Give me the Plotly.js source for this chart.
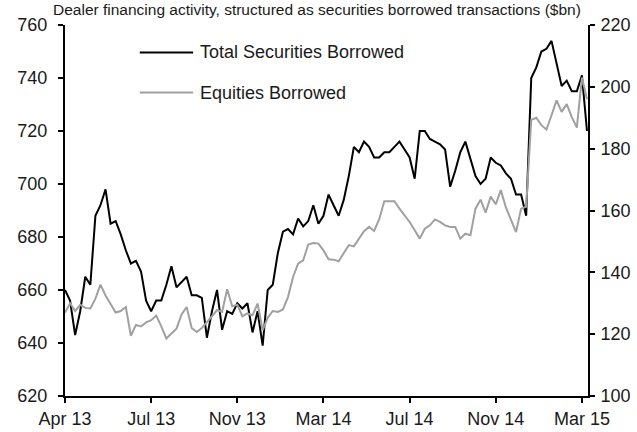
<!DOCTYPE html>
<html>
<head>
<meta charset="utf-8">
<script src="https://cdn.plot.ly/plotly-3.0.1.min.js"></script>
<style>html,body{margin:0;padding:0;background:#fff;}#chart{width:637px;height:432px;}</style>
</head>
<body>
<div id="chart"></div>
<script>
// Weekly observations, index 0 = first week of Apr 2013
const tickLabels = ['Apr 13', 'Jul 13', 'Nov 13', 'Mar 14', 'Jul 14', 'Nov 14', 'Mar 15'];
const tickIndex = [0, 17, 34, 51, 68, 85, 102];

// Total Securities Borrowed ($bn, left axis)
const totalBorrowed = [
  660, 656, 643, 652, 665, 662, 688, 692, 698, 685,
  686, 681, 675, 670, 671, 667, 656, 652, 656, 656,
  662, 669, 661, 663, 665, 658, 658, 657, 642, 652,
  660, 645, 652, 651, 655, 653, 655, 644, 652, 639,
  660, 662, 674, 682, 683, 681, 687, 684, 686, 692,
  685, 688, 696, 692, 688, 694, 703, 714, 712, 716,
  714, 710, 710, 712, 712, 714, 716, 713, 710, 702,
  720, 720, 717, 716, 715, 713, 699, 705, 712, 716,
  709, 703, 700, 702, 710, 708, 707, 704, 702, 696,
  696, 688, 740, 744, 750, 751, 754, 745, 737, 739,
  735, 735, 741, 720
];

// Equities Borrowed ($bn, right axis)
const equitiesBorrowed = [
  127, 130, 127.5, 129.5, 128.5, 128.3, 131.5, 136, 132.5, 129.5,
  127, 127.5, 128.8, 119.5, 123, 122.5, 123.8, 124.5, 126, 122.5,
  118.6, 120.2, 121.8, 126.4, 128.8, 122, 120.7, 122, 123.8, 125.8,
  127.8, 127.2, 134.5, 129, 129.5, 125.8, 126.7, 126.1, 129.9, 121.3,
  125.3, 127.5, 127.2, 128, 132, 138.5, 142.8, 143.9, 149, 149.5,
  149.3, 147.1, 144.2, 144.1, 143.6, 146.3, 148.8, 148.4, 150.9, 153.3,
  154.7, 153.4, 157.2, 163, 163, 163, 160.6, 158.5, 156.3, 153.6,
  150.9, 154.1, 155.2, 157.1, 156.3, 155.2, 154.7, 154.7, 150.9, 152.5,
  152, 160.6, 163.5, 159.3, 164.5, 162, 166.6, 161, 157, 153,
  160.6, 161.2, 189.3, 190, 187.6, 186.2, 190.8, 195.6, 191.9, 194.4,
  190.2, 186.8, 203, 196
];

const seriesNames = ['Total Securities Borrowed', 'Equities Borrowed'];
const titleText = 'Dealer financing activity, structured as securities borrowed transactions ($bn)';

const xIdx = totalBorrowed.map((_, i) => i);
const FONT = 'Liberation Sans, Arial, sans-serif';
const TXT = '#1a1a1a';
const FS = 18;

const traces = [
  {x: xIdx, y: equitiesBorrowed, yaxis: 'y2', type: 'scatter', mode: 'lines',
   name: seriesNames[1], line: {color: '#a0a0a0', width: 2}, showlegend: false},
  {x: xIdx, y: totalBorrowed, yaxis: 'y', type: 'scatter', mode: 'lines',
   name: seriesNames[0], line: {color: '#000000', width: 2}, showlegend: false}
];

const layout = {
  width: 637, height: 432,
  margin: {l: 65, r: 49, t: 25, b: 36, pad: 0},
  paper_bgcolor: '#ffffff', plot_bgcolor: '#ffffff',
  font: {family: FONT, size: FS, color: TXT},
  showlegend: false,
  xaxis: {
    range: [0, 103.2], tickmode: 'array', tickvals: tickIndex, ticktext: tickLabels,
    showgrid: false, zeroline: false, showline: true, linecolor: '#000', linewidth: 2,
    ticks: 'outside', ticklen: 5, tickwidth: 2, tickcolor: '#000',
    tickfont: {family: FONT, size: FS, color: TXT}
  },
  yaxis: {
    range: [620, 760], dtick: 20, tick0: 620,
    showgrid: false, zeroline: false, showline: true, linecolor: '#000', linewidth: 2,
    ticks: 'outside', ticklen: 5, tickwidth: 2, tickcolor: '#000',
    tickfont: {family: FONT, size: FS, color: TXT}, ticklabelstandoff: 7
  },
  yaxis2: {
    range: [100, 220], dtick: 20, tick0: 100, overlaying: 'y', side: 'right',
    showgrid: false, zeroline: false, showline: true, linecolor: '#000', linewidth: 2,
    ticks: 'outside', ticklen: 5, tickwidth: 2, tickcolor: '#000',
    tickfont: {family: FONT, size: FS, color: TXT}, ticklabelstandoff: 2
  },
  shapes: [
    {type: 'line', xref: 'paper', yref: 'paper', x0: 0.143, x1: 0.245, y0: 0.926, y1: 0.926,
     line: {color: '#000', width: 2}},
    {type: 'line', xref: 'paper', yref: 'paper', x0: 0.143, x1: 0.245, y0: 0.818, y1: 0.818,
     line: {color: '#a0a0a0', width: 2}}
  ],
  annotations: [
    {text: seriesNames[0], xref: 'paper', yref: 'paper', x: 0.254, y: 0.926,
     xanchor: 'left', yanchor: 'middle', showarrow: false, font: {family: FONT, size: FS, color: TXT}},
    {text: seriesNames[1], xref: 'paper', yref: 'paper', x: 0.254, y: 0.818,
     xanchor: 'left', yanchor: 'middle', showarrow: false, font: {family: FONT, size: FS, color: TXT}},
    {text: titleText, xref: 'paper', yref: 'paper', x: -0.0249, y: 1.0674,
     xanchor: 'left', yanchor: 'top', showarrow: false, borderpad: 0,
     font: {family: FONT, size: 15.5, color: TXT}}
  ]
};

Plotly.newPlot('chart', traces, layout, {displayModeBar: false, staticPlot: true});
</script>
</body>
</html>
